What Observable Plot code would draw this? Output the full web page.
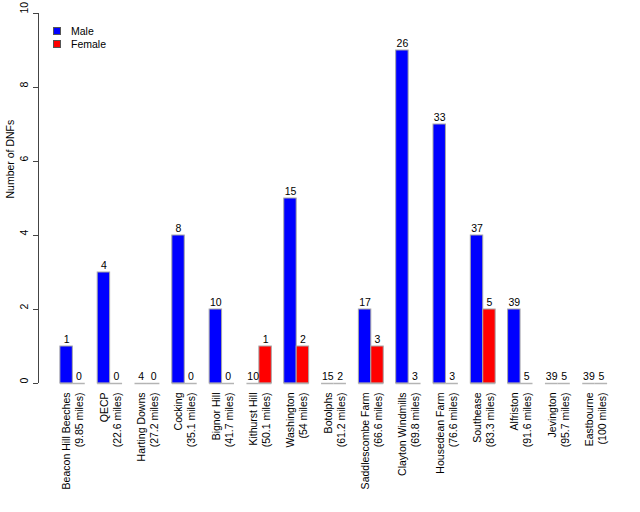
<!DOCTYPE html>
<html>
<head>
<meta charset="utf-8">
<script src="https://cdn.jsdelivr.net/npm/d3@7"></script>
<script src="https://cdn.jsdelivr.net/npm/@observablehq/plot@0.6"></script>
<style>
  body { margin: 0; background: #fff; font-family: "Liberation Sans", Arial, sans-serif; }
  #wrap { position: relative; width: 640px; height: 512px; }
  .legend { position: absolute; left: 53px; top: 24px; font-size: 10.5px; color: #000; }
  .legend div { display: flex; align-items: center; height: 13px; }
  .legend span.sw { display: inline-block; width: 8px; height: 8px; border: 1px solid #555; box-sizing: border-box; margin-right: 10px; }
</style>
</head>
<body>
<div id="wrap"></div>
<script>
const checkpoints = ["Beacon Hill Beeches", "QECP", "Harting Downs", "Cocking", "Bignor Hill", "Kithurst Hill", "Washington", "Botolphs", "Saddlescombe Farm", "Clayton Windmills", "Housedean Farm", "Southease", "Alfriston", "Jevington", "Eastbourne"];
const miles = ["9.85", "22.6", "27.2", "35.1", "41.7", "50.1", "54", "61.2", "66.6", "69.8", "76.6", "83.3", "91.6", "95.7", "100"];
const male = [1, 3, 0, 4, 2, 0, 5, 0, 2, 9, 7, 4, 2, 0, 0];
const female = [0, 0, 0, 0, 0, 1, 1, 0, 1, 0, 0, 2, 0, 0, 0];
const maleLabels = [1, 4, 4, 8, 10, 10, 15, 15, 17, 26, 33, 37, 39, 39, 39];
const femaleLabels = [0, 0, 0, 0, 0, 1, 2, 2, 3, 3, 3, 5, 5, 5, 5];
const yTicks = [0, 2, 4, 6, 8, 10];
const sexes = ["Male", "Female"];
const colors = ["#0000ff", "#ff0000"];

// barplot layout (beside, space = c(0,1)): each group = 1 gap + 2 bars
const rows = [];
checkpoints.forEach((c, i) => {
  [male, female].forEach((arr, s) => {
    const x1 = 3 * i + 1 + s;
    rows.push({checkpoint: c, sex: sexes[s], value: arr[i],
      label: (s === 0 ? maleLabels : femaleLabels)[i], x1, x2: x1 + 1, xm: x1 + 0.5});
  });
});
const groups = checkpoints.map((c, i) => ({label: `${c}\n(${miles[i]} miles)`, xm: 3 * i + 2}));
const lo = d3.min(rows, d => d.x1), hi = d3.max(rows, d => d.x2);
const ext = (hi - lo) * 0.04;
const xmin = lo - ext, xmax = hi + ext;

const chart = Plot.plot({
  width: 640,
  height: 512,
  marginLeft: 38,
  marginRight: 11,
  marginTop: 13,
  marginBottom: 129,
  style: {fontFamily: "Liberation Sans, Arial, sans-serif", fontSize: "10.5px", color: "#000", background: "#fff"},
  x: {domain: [xmin, xmax], axis: null},
  y: {domain: [0, 10], axis: null},
  color: {domain: sexes, range: colors},
  marks: [
    Plot.rectY(rows, {x1: "x1", x2: "x2", y1: 0, y2: "value", fill: "sex", stroke: "#a8a8a8", strokeWidth: 1}),
    Plot.ruleY(rows, {x1: "x1", x2: "x2", y: 0, stroke: "#b4b4b4", strokeWidth: 1.5}),
    Plot.text(rows, {x: "xm", y: "value", text: d => String(d.label), dy: -6.5, fontSize: 10.5, fill: "#000"}),
    Plot.text(groups, {x: "xm", text: "label", frameAnchor: "bottom", dy: 9, rotate: -90, textAnchor: "end", lineAnchor: "middle", lineHeight: 1.24, fontSize: 10.5, fill: "#000"}),
    Plot.ruleX([xmin], {y1: yTicks[0], y2: yTicks[yTicks.length - 1], stroke: "#444"}),
    Plot.axisY({ticks: yTicks, tickSize: 5, tickFormat: () => "", label: null, stroke: "#444"}),
    Plot.text(yTicks, {y: d => d, text: d => String(d), frameAnchor: "left", dx: -14, rotate: -90, fontSize: 10.5, fill: "#000"}),
    Plot.text(["Number of DNFs"], {frameAnchor: "left", dx: -28, rotate: -90, fontSize: 10.5, fill: "#000"})
  ]
});

const wrap = document.getElementById("wrap");
wrap.appendChild(chart);
const legend = document.createElement("div");
legend.className = "legend";
sexes.forEach((s, i) => {
  const row = document.createElement("div");
  const sw = document.createElement("span");
  sw.className = "sw";
  sw.style.background = colors[i];
  row.appendChild(sw);
  row.appendChild(document.createTextNode(s));
  legend.appendChild(row);
});
wrap.appendChild(legend);
</script>
</body>
</html>
